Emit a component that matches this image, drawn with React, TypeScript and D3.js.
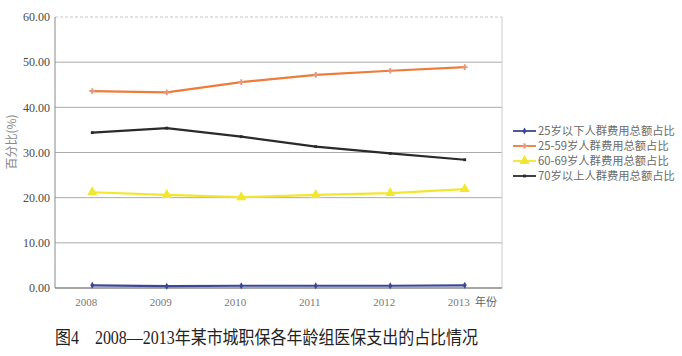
import React from "react";
import * as d3 from "d3";

const years = ["2008", "2009", "2010", "2011", "2012", "2013"];
const yTicks = [0, 10, 20, 30, 40, 50, 60];
const under25 = [0.6, 0.4, 0.5, 0.5, 0.5, 0.6];
const age25to59 = [43.6, 43.3, 45.6, 47.2, 48.1, 48.9];
const age60to69 = [21.2, 20.6, 20.1, 20.6, 21.0, 21.9];
const over70 = [34.4, 35.4, 33.5, 31.3, 29.8, 28.4];
const seriesNames = [
  "25岁以下人群费用总额占比",
  "25-59岁人群费用总额占比",
  "60-69岁人群费用总额占比",
  "70岁以上人群费用总额占比",
];
const seriesValues = [under25, age25to59, age60to69, over70];
const colors = ["#3b4796", "#ee7b3a", "#f2e62e", "#2a2a2a"];
const markers = ["diamond", "cross", "triangle", "square"];

const W = 682, H = 356;
const left = 55, right = 502, top = 17, bottom = 288;
const serif = "'Liberation Serif', 'DejaVu Serif', 'Noto Sans CJK SC', serif";
const cjk = "'Noto Sans CJK SC', 'Liberation Serif', serif";

export default function App() {
  const x = d3.scaleBand<string>().domain(years).range([left, right]).paddingInner(0).paddingOuter(0);
  const y = d3.scaleLinear().domain([0, 60]).range([bottom, top]);
  const cx = (yr: string) => (x(yr) as number) + x.bandwidth() / 2;
  const line = d3
    .line<number>()
    .x((_, i) => cx(years[i]))
    .y((d) => y(d));

  const marker = (kind: string, px: number, py: number, color: string, key: string) => {
    if (kind === "triangle") {
      const p = d3.symbol(d3.symbolTriangle, 45)();
      return <path key={key} d={p || ""} transform={`translate(${px},${py})`} fill={color} />;
    }
    if (kind === "diamond") {
      const p = d3.symbol(d3.symbolDiamond, 14)();
      return <path key={key} d={p || ""} transform={`translate(${px},${py})`} fill={color} />;
    }
    if (kind === "cross") {
      const p = d3.symbol(d3.symbolCross, 18)();
      return <path key={key} d={p || ""} transform={`translate(${px},${py})`} fill="#e8957a" />;
    }
    const p = d3.symbol(d3.symbolSquare, 8)();
    return <path key={key} d={p || ""} transform={`translate(${px},${py})`} fill={color} />;
  };

  return (
    <div style={{ position: "absolute", left: 0, top: 0 }}>
      <svg width={W} height={H} style={{ display: "block", background: "#fff" }}>
        {/* gridlines */}
        {yTicks.map((t) => (
          <line
            key={"g" + t}
            x1={left}
            x2={right}
            y1={y(t)}
            y2={y(t)}
            stroke={t === 60 ? "#c4c4c4" : "#ababab"}
            strokeWidth={1}
            strokeDasharray={t === 60 ? "3,2" : undefined}
          />
        ))}
        {/* plot borders */}
        <line x1={left} x2={left} y1={top} y2={bottom} stroke="#8a8a8a" strokeWidth={1} />
        <line x1={right} x2={right} y1={top} y2={bottom} stroke="#cccccc" strokeWidth={1} />
        <line x1={left} x2={right} y1={bottom} y2={bottom} stroke="#777" strokeWidth={1.2} />
        {/* y tick labels */}
        {yTicks.map((t) => (
          <text
            key={"yl" + t}
            x={left - 5}
            y={y(t)}
            dy="0.35em"
            textAnchor="end"
            fontFamily={serif}
            fontSize={12}
            fill="#4a4a4a"
          >
            {d3.format(".2f")(t)}
          </text>
        ))}
        {/* x tick labels */}
        {years.map((yr) => (
          <text
            key={"xl" + yr}
            x={cx(yr) - 6}
            y={306}
            textAnchor="middle"
            fontFamily={serif}
            fontSize={11}
            fill="#777"
          >
            {yr}
          </text>
        ))}
        <text x={486} y={306} fontFamily={cjk} fontSize={11} fill="#666" textAnchor="middle">
          年份
        </text>
        {/* y axis title */}
        <text
          transform={`translate(12,142) rotate(-90)`}
          textAnchor="middle"
          dy="0.35em"
          fontFamily={cjk}
          fontSize={12}
          fill="#8a8a8a"
        >
          百分比(%)
        </text>
        {/* series */}
        {seriesValues.map((vals, si) => (
          <g key={"s" + si}>
            <path d={line(vals) || ""} fill="none" stroke={colors[si]} strokeWidth={2.2} />
            {vals.map((v, i) => marker(markers[si], cx(years[i]), y(v), colors[si], `m${si}-${i}`))}
          </g>
        ))}
        {/* legend */}
        {seriesNames.map((name, si) => {
          const ly = 131 + si * 15;
          return (
            <g key={"lg" + si}>
              <line x1={513} x2={536} y1={ly} y2={ly} stroke={colors[si]} strokeWidth={1.8} />
              {marker(markers[si], 524.5, ly, colors[si], "lm" + si)}
              <text x={538} y={ly} dy="0.35em" fontFamily={cjk} fontSize={11.3} fill="#6a6a6a">
                {name}
              </text>
            </g>
          );
        })}
        {/* caption */}
        <text x={55} y={344} fontFamily={serif} fontSize={18} fill="#222" textLength={423} lengthAdjust="spacingAndGlyphs">
          图4　2008—2013年某市城职保各年龄组医保支出的占比情况
        </text>
      </svg>
    </div>
  );
}
